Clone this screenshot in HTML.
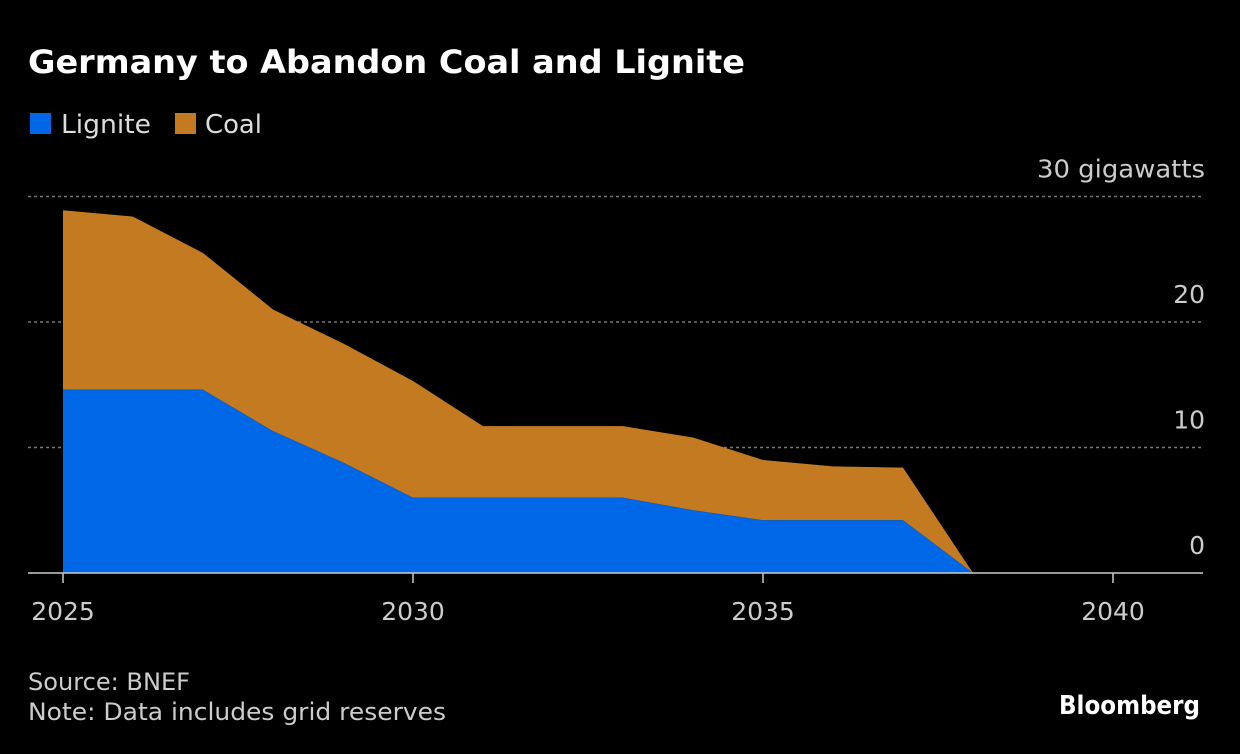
<!DOCTYPE html>
<html><head><meta charset="utf-8"><style>
body{margin:0;background:#000;width:1240px;height:750px;overflow:hidden;font-family:"DejaVu Sans","Liberation Sans",sans-serif;color:#ddd}
</style></head><body>
<svg width="1240" height="750" font-family="DejaVu Sans, Liberation Sans, sans-serif">
<text x="28" y="73" fill="#fff" font-size="32" font-weight="bold" textLength="717" lengthAdjust="spacingAndGlyphs">Germany to Abandon Coal and Lignite</text>
<g>
<rect x="30" y="113" width="21" height="21" fill="#0068e6"/>
<text x="61" y="133" fill="#ddd" font-size="26" textLength="90" lengthAdjust="spacingAndGlyphs">Lignite</text>
<rect x="175" y="113" width="21" height="21" fill="#c47a20"/>
<text x="205" y="133" fill="#ddd" font-size="26" textLength="57" lengthAdjust="spacingAndGlyphs">Coal</text>
</g>
<g id="plot"></g>
<text x="28" y="690" fill="#ccc" font-size="24" textLength="162" lengthAdjust="spacingAndGlyphs">Source: BNEF</text>
<text x="28" y="720" fill="#ccc" font-size="24" textLength="418" lengthAdjust="spacingAndGlyphs">Note: Data includes grid reserves</text>
<text x="1200" y="714" fill="#fff" font-size="26" font-weight="bold" text-anchor="end" textLength="141" lengthAdjust="spacingAndGlyphs">Bloomberg</text>
</svg>
<script>
const years=[2025,2026,2027,2028,2029,2030,2031,2032,2033,2034,2035,2036,2037,2038];
const lignite=[14.6,14.6,14.6,11.3,8.8,6.0,6.0,6.0,6.0,5.0,4.2,4.2,4.2,0];
const coal=[14.3,13.8,10.9,9.7,9.5,9.3,5.7,5.7,5.7,5.8,4.8,4.3,4.2,0];
const yTicks=[0,10,20,30];
const xTicks=[2025,2030,2035,2040];
const NS="http://www.w3.org/2000/svg";
const g=document.getElementById('plot');
const x=v=>63+(v-2025)*70;
const y=v=>573-v*12.55;
function mk(t,a){const e=document.createElementNS(NS,t);for(const k in a)e.setAttribute(k,a[k]);g.appendChild(e);return e;}
yTicks.forEach(t=>{
 if(t>0){const l=mk('line',{x1:28,x2:1203,y1:y(t),y2:y(t),stroke:'#777','stroke-width':1.5,'stroke-dasharray':'3,3'});
 
 }
 const tx=mk('text',{x:1205,y:y(t)-19,fill:'#ccc','font-size':25,'text-anchor':'end'});
 tx.textContent=t===30?'30 gigawatts':String(t);
 if(t===30){tx.setAttribute('textLength',168);tx.setAttribute('lengthAdjust','spacingAndGlyphs');}
 
 
});
const tot=lignite.map((v,i)=>v+coal[i]);
let p1='M'+years.map((yr,i)=>x(yr)+','+y(tot[i])).join(' L')+' L'+years.slice().reverse().map((yr,j)=>x(yr)+','+y(lignite[years.length-1-j])).join(' L')+'Z';
const ca=mk('path',{d:p1,fill:'#c47a20'});


let p2='M'+x(years[0])+','+y(0)+' L'+years.map((yr,i)=>x(yr)+','+y(lignite[i])).join(' L')+' L'+x(years[years.length-1])+','+y(0)+'Z';
const la=mk('path',{d:p2,fill:'#0068e6'});


const ax=mk('line',{x1:28,x2:1203,y1:573,y2:573,stroke:'#ccc','stroke-width':1.5});


xTicks.forEach(t=>{
 const tk=mk('line',{x1:x(t),x2:x(t),y1:573,y2:583,stroke:'#ccc','stroke-width':1.5});
 
 
 const tx=mk('text',{x:x(t),y:620,fill:'#ccc','font-size':25,'text-anchor':'middle'});
 tx.textContent=t;
 
 
});
</script>
</body></html>
